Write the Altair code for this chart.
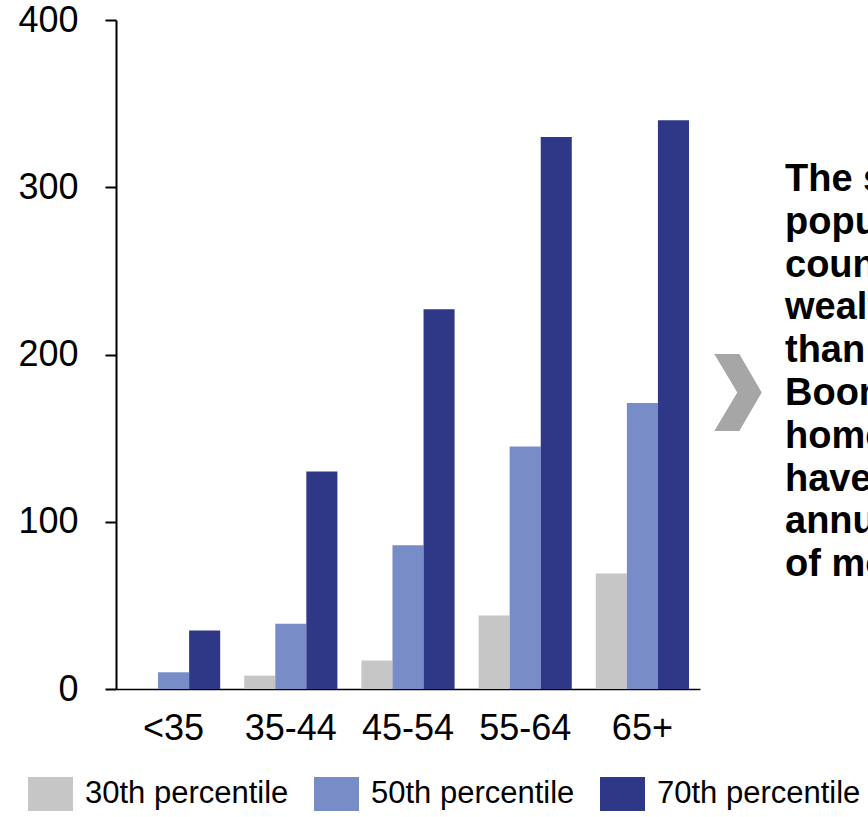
import altair as alt
import pandas as pd

ages = ["<35", "35-44", "45-54", "55-64", "65+"]
series = ["30th percentile", "50th percentile", "70th percentile"]
p30 = [0, 8, 17, 44, 69]
p50 = [10, 39, 86, 145, 171]
p70 = [35, 130, 227, 330, 340]
colors = ["#C6C6C6", "#788DC7", "#2E3887"]
y_ticks = [0, 100, 200, 300, 400]
note_lines = [
    "The senior",
    "population in this",
    "country is far",
    "wealthier today",
    "than ever before.",
    "Boomers who own",
    "homes outright",
    "have on average",
    "annual incomes",
    "of more than",
]

rows = []
for s, vals in zip(series, [p30, p50, p70]):
    for a, v in zip(ages, vals):
        rows.append({"age": a, "series": s, "value": v})
df = pd.DataFrame(rows)

FONT = "Liberation Sans"
W, H = 584, 669
PAD_L, PAD_T = 116, 20

rect_path = "M-1.3235,-1L1.3235,-1L1.3235,1L-1.3235,1Z"
chev_path = "M-0.616,-1L0.034,-1L0.616,0L0.034,1L-0.616,1L-0.018,0Z"

bars = alt.Chart(df).mark_bar().encode(
    x=alt.X("age:N", sort=ages, title=None,
            scale=alt.Scale(paddingInner=0.205, paddingOuter=0.094),
            axis=alt.Axis(labelAngle=0, ticks=False, labelFontSize=36,
                          labelFont=FONT, labelColor="black", labelPadding=22,
                          domainColor="black", domainWidth=1.5)),
    xOffset=alt.XOffset("series:N", sort=series,
                        scale=alt.Scale(paddingInner=0, paddingOuter=0)),
    y=alt.Y("value:Q", title=None,
            scale=alt.Scale(domain=[0, 400], nice=False),
            axis=alt.Axis(values=y_ticks, grid=False, tickSize=11, tickWidth=2,
                          tickColor="black", domainColor="black", domainWidth=2,
                          labelFontSize=36, labelFont=FONT, labelColor="black",
                          labelPadding=27)),
    color=alt.Color("series:N", sort=series,
                    scale=alt.Scale(domain=series, range=colors),
                    legend=alt.Legend(title=None, orient="none", direction="horizontal",
                                      legendX=-82.5, legendY=757, padding=0,
                                      symbolType=rect_path, symbolSize=1156,
                                      symbolStrokeWidth=0, symbolOpacity=1,
                                      labelFontSize=31, labelFont=FONT,
                                      labelColor="black", labelOffset=17.5,
                                      columnPadding=25, labelLimit=400)),
)

chev = alt.Chart(pd.DataFrame({"k": [0]})).mark_point(
    shape=chev_path, filled=True, size=5929, color="#A6A6A6", opacity=1
).encode(x=alt.value(622), y=alt.value(372.5))

note = alt.Chart(pd.DataFrame({"t": [note_lines]})).mark_text(
    align="left", baseline="alphabetic", fontSize=38, fontWeight="bold",
    font=FONT, color="black", lineHeight=42.8
).encode(x=alt.value(669), y=alt.value(171), text="t")

chart = alt.layer(bars, chev, note).properties(
    width=W, height=H,
    autosize=alt.AutoSizeParams(type="none"),
    padding={"left": PAD_L, "top": PAD_T, "right": 868 - PAD_L - W, "bottom": 817 - PAD_T - H},
).configure_view(stroke=None)

chart.save("out.html", embed_options={"renderer": "svg", "actions": False})
